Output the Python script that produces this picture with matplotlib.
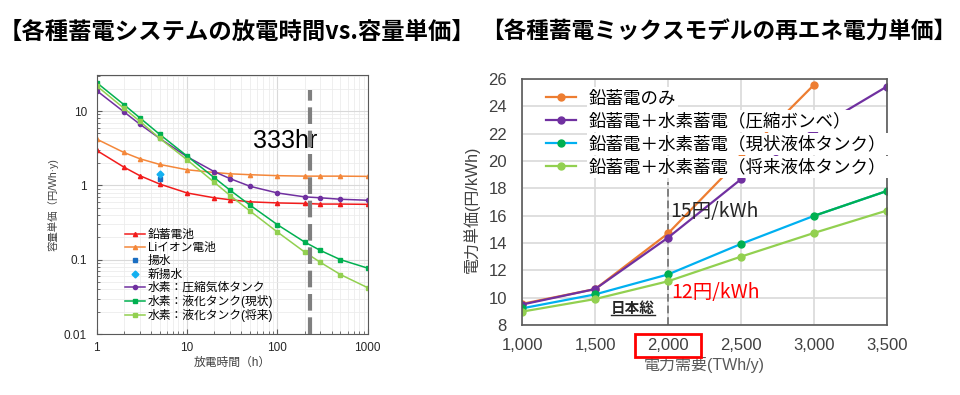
import matplotlib
matplotlib.use('Agg')
import matplotlib.pyplot as plt
from matplotlib.lines import Line2D
from matplotlib.patches import Rectangle
from matplotlib.ticker import FuncFormatter, LogLocator, NullFormatter

plt.rcParams['font.family'] = ['Liberation Sans', 'Noto Sans CJK JP', 'DejaVu Sans']

# left chart: discharge hours vs capacity unit cost
hours = [1, 2, 3, 5, 10, 20, 30, 50, 100, 200, 300, 500, 1000]
lead_acid = [2.95, 1.76, 1.35, 1.04, 0.79, 0.68, 0.64, 0.60, 0.58, 0.57, 0.56, 0.56, 0.555]
li_ion = [4.19, 2.77, 2.28, 1.91, 1.62, 1.49, 1.43, 1.39, 1.35, 1.33, 1.33, 1.33, 1.32]
h2_gas = [18.8, 9.75, 6.66, 4.27, 2.43, 1.53, 1.23, 0.97, 0.79, 0.70, 0.68, 0.65, 0.63]
h2_liq_now = [24.1, 12.2, 8.1, 4.84, 2.48, 1.27, 0.86, 0.54, 0.296, 0.173, 0.133, 0.10, 0.077]
h2_liq_future = [21.8, 10.9, 7.3, 4.27, 2.21, 1.10, 0.73, 0.45, 0.236, 0.127, 0.092, 0.063, 0.042]
pumped_h, pumped = [5], [1.2]
new_pumped_h, new_pumped = [5], [1.42]
marker_hour = 230

# right chart: demand vs renewable power unit cost
demand = [1000, 1500, 2000, 2500, 3000, 3500]
mix_lead = [9.55, 10.63, 14.7, 20.2, 25.56]
mix_gas = [9.5, 10.63, 14.39, 18.66, 22.27, 25.44]
mix_liq_now = [9.22, 10.24, 11.7, 13.93, 15.98, 17.8]
mix_liq_future = [8.98, 9.9, 11.2, 13.0, 14.73, 16.37]
ref_demand = 2000

fig = plt.figure(figsize=(9.6, 3.95), dpi=100)

fig.text(0.247, 0.919, '【各種蓄電システムの放電時間vs.容量単価】', ha='center', va='center',
         fontsize=16.8, fontweight='bold', family=['Noto Sans CJK JP', 'DejaVu Sans'])
fig.text(0.749, 0.919, '【各種蓄電ミックスモデルの再エネ電力単価】', ha='center', va='center',
         fontsize=16.3, fontweight='bold', family=['Noto Sans CJK JP', 'DejaVu Sans'])

# ---- left
ax = fig.add_axes([0.1007, 0.1544, 0.2823, 0.6557])
ax.set_xscale('log')
ax.set_yscale('log')
ax.set_xlim(1, 1000)
ax.set_ylim(0.01, 30.5)
ax.plot(hours, lead_acid, color='#f21c1c', marker='^', ms=3, lw=1.1, label='鉛蓄電池')
ax.plot(hours, li_ion, color='#f4873a', marker='^', ms=3, lw=1.1, label='Liイオン電池')
ax.plot(pumped_h, pumped, ls='none', color='#1a6ec2', marker='s', ms=3.5, label='揚水')
ax.plot(new_pumped_h, new_pumped, ls='none', color='#13b0f0', marker='D', ms=3.5, label='新揚水')
ax.plot(hours, h2_gas, color='#7030a0', marker='o', ms=3, lw=1.1, label='水素：圧縮気体タンク')
ax.plot(hours, h2_liq_now, color='#00b050', marker='s', ms=3, lw=1.1, label='水素：液化タンク(現状)')
ax.plot(hours, h2_liq_future, color='#92d050', marker='s', ms=3, lw=1.1, label='水素：液化タンク(将来)')
ax.vlines(marker_hour, 0.01, 19, colors='#7f7f7f', lw=3, linestyles=(0, (4, 1.6)), zorder=4)
ax.text(54, 3.9, '333hr', fontsize=18, va='center', ha='left')

ax.grid(True, which='major', color='#d9d9d9', lw=0.8)
ax.grid(True, which='minor', color='#ececec', lw=0.6)
ax.set_axisbelow(True)
ax.xaxis.set_major_formatter(FuncFormatter(lambda v, p: f'{v:g}'))
ax.yaxis.set_major_formatter(FuncFormatter(lambda v, p: f'{v:g}'))
ax.xaxis.set_minor_formatter(NullFormatter())
ax.yaxis.set_minor_formatter(NullFormatter())
ax.yaxis.set_major_locator(LogLocator(base=10, numticks=10))
ax.tick_params(which='both', direction='in', colors='#595959', labelcolor='#262626', labelsize=8.5)
ax.tick_params(axis='y', pad=7)
ax.tick_params(axis='x', pad=6)
for s in ax.spines.values():
    s.set_color('#595959')
ax.set_xlabel('放電時間（h）', fontsize=8.5, color='#404040', labelpad=2)
ax.set_ylabel('容量単価（円/Wh·y)', fontsize=7.5, color='#404040', labelpad=4)
ax.legend(loc='lower left', bbox_to_anchor=(0.06, 0.0), frameon=False, fontsize=8.5,
          handlelength=1.7, handletextpad=0.25, labelspacing=0.1, borderaxespad=0.6)

# ---- right
ax2 = fig.add_axes([0.544, 0.1772, 0.3796, 0.6228])
ax2.set_xlim(1000, 3500)
ax2.set_ylim(8, 26)
ax2.plot(demand[:len(mix_lead)], mix_lead, color='#ed7d31', marker='o', ms=5, lw=1.6,
         label='鉛蓄電のみ')
ax2.plot(demand, mix_gas, color='#7030a0', marker='o', ms=5, lw=1.6,
         label='鉛蓄電＋水素蓄電（圧縮ボンベ）')
ax2.plot(demand, mix_liq_now, color='#00b0f0', marker='o', ms=5, mfc='#00b050', mec='#00b050',
         lw=1.6, label='鉛蓄電＋水素蓄電（現状液体タンク）')
ax2.plot(demand[-2:], mix_liq_now[-2:], color='#00b050', lw=1.6)
ax2.plot(demand, mix_liq_future, color='#92d050', marker='o', ms=5, lw=1.6,
         label='鉛蓄電＋水素蓄電（将来液体タンク）')
ax2.vlines(ref_demand, 8, 18.5, colors='#7f7f7f', lw=1.4, linestyles=(0, (4, 2)), zorder=1.5)

ax2.set_xticks(demand)
ax2.set_yticks(range(8, 27, 2))
ax2.xaxis.set_major_formatter(FuncFormatter(lambda v, p: f'{int(v):,}'))
ax2.grid(True, color='#d9d9d9', lw=1.2)
ax2.set_axisbelow(True)
ax2.tick_params(length=0, labelsize=12, labelcolor='#404040')
ax2.tick_params(axis='y', pad=11)
ax2.tick_params(axis='x', pad=9)
for s in ax2.spines.values():
    s.set_color('#595959')
    s.set_linewidth(1.2)
ax2.set_xlabel('電力需要(TWh/y)', fontsize=11.5, color='#595959', labelpad=3)
ax2.set_ylabel('電力単価(円/kWh)', fontsize=11.5, color='#404040')
ax2.yaxis.set_label_coords(-0.116, 0.47)

ax2.text(2018, 16.3, '15円/kWh', fontsize=14, color='#262626', va='center',
         family=['Noto Sans CJK JP', 'DejaVu Sans'])
ax2.text(2020, 10.4, '12円/kWh', fontsize=14, color='#ff0000', va='center',
         family=['Noto Sans CJK JP', 'DejaVu Sans'])
t_jp = ax2.text(1608, 9.24, '日本総', fontsize=10.5, fontweight='bold', color='#262626', va='center',
                family=['Noto Sans CJK JP', 'DejaVu Sans'])

leg = ax2.legend(loc='upper left', bbox_to_anchor=(0.036, 1.0), frameon=False,
                 handlelength=1.7, handletextpad=0.75, labelspacing=0.28, borderaxespad=0.2,
                 prop={'family': ['Noto Sans CJK JP', 'DejaVu Sans'], 'size': 12.6})
for t in leg.get_texts():
    t.set_bbox(dict(facecolor='white', edgecolor='none', pad=1.5))
leg.set_zorder(5)

# underline for 日本総 and red box around the 2,000 tick label
fig.canvas.draw()
inv = fig.transFigure.inverted()
bb = t_jp.get_window_extent()
(x0, y0), (x1, y1) = inv.transform([(bb.x0, bb.y0 + 1), (bb.x1, bb.y0 + 1)])
fig.add_artist(Line2D([x0, x1], [y0, y1], color='#262626', lw=1))
for lab in ax2.get_xticklabels():
    if lab.get_text() == '2,000':
        bb = lab.get_window_extent()
        (x0, y0), (x1, y1) = inv.transform([(bb.x0 - 12, bb.y0 - 4), (bb.x1 + 12, bb.y1 + 4)])
        fig.add_artist(Rectangle((x0, y0), x1 - x0, y1 - y0, fill=False, ec='#ff0000', lw=2))

fig.savefig('out.png', dpi=100)
